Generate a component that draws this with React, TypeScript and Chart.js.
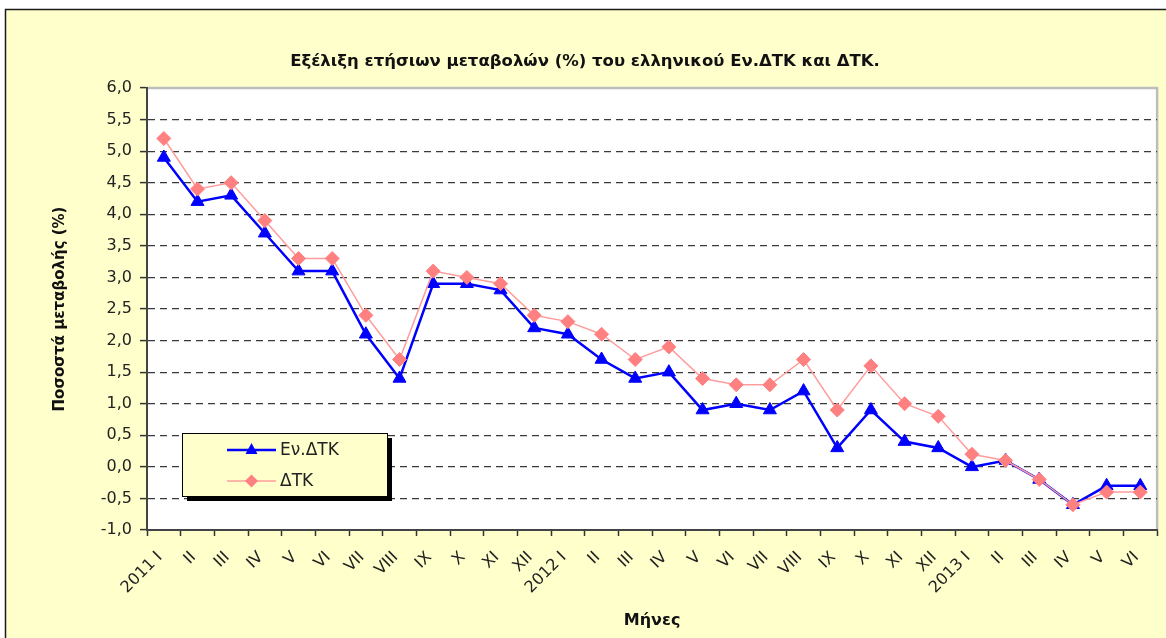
import React, { useEffect, useRef } from "react";
import { Chart, registerables } from "chart.js";

Chart.register(...registerables);

const months = [
  "2011 I", "II", "III", "IV", "V", "VI", "VII", "VIII", "IX", "X", "XI", "XII",
  "2012 I", "II", "III", "IV", "V", "VI", "VII", "VIII", "IX", "X", "XI", "XII",
  "2013 I", "II", "III", "IV", "V", "VI",
];

// Εν.ΔΤΚ (harmonised CPI), annual % change
const hicpValues = [
  4.9, 4.2, 4.3, 3.7, 3.1, 3.1, 2.1, 1.4, 2.9, 2.9, 2.8, 2.2,
  2.1, 1.7, 1.4, 1.5, 0.9, 1.0, 0.9, 1.2, 0.3, 0.9, 0.4, 0.3,
  0.0, 0.1, -0.2, -0.6, -0.3, -0.3,
];

// ΔΤΚ (CPI), annual % change
const cpiValues = [
  5.2, 4.4, 4.5, 3.9, 3.3, 3.3, 2.4, 1.7, 3.1, 3.0, 2.9, 2.4,
  2.3, 2.1, 1.7, 1.9, 1.4, 1.3, 1.3, 1.7, 0.9, 1.6, 1.0, 0.8,
  0.2, 0.1, -0.2, -0.6, -0.4, -0.4,
];

const seriesNames = ["Εν.ΔΤΚ", "ΔΤΚ"];
const yMin = -1.0;
const yMax = 6.0;
const yStep = 0.5;

const chartTitle = "Εξέλιξη ετήσιων μεταβολών (%) του ελληνικού Εν.ΔΤΚ και ΔΤΚ.";
const yAxisTitle = "Ποσοστά μεταβολής (%)";
const xAxisTitle = "Μήνες";

const BLUE = "#0000FF";
const PINK = "#FF8080";
const PINK_LINE = "#FF9C9C";
const BG = "#FFFFCC";
const FONT = "'DejaVu Sans', 'Liberation Sans', Arial, sans-serif";

const framePlugin = {
  id: "frame",
  beforeDraw(chart: any) {
    const { ctx, width, height, chartArea: a } = chart;
    ctx.save();
    ctx.fillStyle = "#ffffff";
    ctx.fillRect(0, 0, width, height);
    ctx.fillStyle = BG;
    ctx.fillRect(5, 9, width, height);
    ctx.strokeStyle = "#1a1a1a";
    ctx.lineWidth = 1.5;
    ctx.beginPath();
    ctx.moveTo(5.5, height);
    ctx.lineTo(5.5, 9.5);
    ctx.lineTo(width, 9.5);
    ctx.stroke();
    ctx.fillStyle = "#ffffff";
    ctx.fillRect(a.left, a.top, a.right - a.left, a.bottom - a.top);
    ctx.strokeStyle = "#BDBDBD";
    ctx.lineWidth = 2.5;
    ctx.beginPath();
    ctx.moveTo(a.left, a.top);
    ctx.lineTo(a.right, a.top);
    ctx.lineTo(a.right, a.bottom);
    ctx.stroke();
    ctx.restore();
  },
};

const legendPlugin = {
  id: "boxLegend",
  afterDatasetsDraw(chart: any) {
    const { ctx, chartArea: a } = chart;
    const x = a.left + 35;
    const y = a.top + 345;
    const w = 205;
    const h = 63;
    ctx.save();
    ctx.fillStyle = "#000000";
    ctx.fillRect(x + 5, y + 5, w, h);
    ctx.fillStyle = BG;
    ctx.fillRect(x, y, w, h);
    ctx.strokeStyle = "#000000";
    ctx.lineWidth = 1;
    ctx.strokeRect(x + 0.5, y + 0.5, w, h);

    const rows = [
      { name: seriesNames[0], color: BLUE, lineColor: BLUE, lw: 2.5, shape: "tri" },
      { name: seriesNames[1], color: PINK, lineColor: PINK_LINE, lw: 1.5, shape: "dia" },
    ];
    rows.forEach((r, i) => {
      const cy = y + 17 + i * 31;
      const lx1 = x + 45;
      const lx2 = x + 94;
      const mx = (lx1 + lx2) / 2;
      ctx.strokeStyle = r.lineColor;
      ctx.lineWidth = r.lw;
      ctx.beginPath();
      ctx.moveTo(lx1, cy);
      ctx.lineTo(lx2, cy);
      ctx.stroke();
      ctx.fillStyle = r.color;
      ctx.beginPath();
      if (r.shape === "tri") {
        ctx.moveTo(mx, cy - 7);
        ctx.lineTo(mx + 6, cy + 4);
        ctx.lineTo(mx - 6, cy + 4);
      } else {
        ctx.moveTo(mx, cy - 6.5);
        ctx.lineTo(mx + 6.5, cy);
        ctx.lineTo(mx, cy + 6.5);
        ctx.lineTo(mx - 6.5, cy);
      }
      ctx.closePath();
      ctx.fill();
      ctx.fillStyle = "#222222";
      ctx.font = `17px ${FONT}`;
      ctx.textAlign = "left";
      ctx.textBaseline = "middle";
      ctx.fillText(r.name, x + 98, cy + 1);
    });
    ctx.restore();
  },
};

export default function App() {
  const canvasRef = useRef<HTMLCanvasElement | null>(null);

  useEffect(() => {
    const canvas = canvasRef.current;
    if (!canvas) return;
    const chart = new Chart(canvas, {
      type: "line",
      data: {
        labels: months,
        datasets: [
          {
            label: seriesNames[0],
            data: hicpValues,
            borderColor: BLUE,
            backgroundColor: BLUE,
            borderWidth: 2.5,
            pointStyle: "triangle",
            pointRadius: 7.5,
            pointBorderWidth: 1,
            pointBorderColor: BLUE,
            pointBackgroundColor: BLUE,
            tension: 0,
            order: 1,
          },
          {
            label: seriesNames[1],
            data: cpiValues,
            borderColor: PINK_LINE,
            backgroundColor: PINK,
            borderWidth: 1.5,
            pointStyle: "rectRot",
            pointRadius: 7,
            pointBorderWidth: 1,
            pointBorderColor: PINK,
            pointBackgroundColor: PINK,
            tension: 0,
            order: 0,
          },
        ],
      },
      plugins: [framePlugin, legendPlugin],
      options: {
        responsive: false,
        animation: false,
        layout: { padding: { left: 10, right: 6, top: 0, bottom: 0 } },
        plugins: {
          legend: { display: false },
          tooltip: { enabled: false },
          title: {
            display: true,
            text: chartTitle,
            color: "#111111",
            font: { family: FONT, size: 16.5, weight: "bold", lineHeight: 1.2 },
            padding: { top: 52, bottom: 16.2 },
          },
        },
        scales: {
          x: {
            type: "category",
            offset: true,
            afterFit: (s: any) => {
              s.height = 108;
            },
            grid: {
              offset: true,
              drawOnChartArea: false,
              drawTicks: true,
              tickLength: 6,
              tickColor: "#333333",
              tickWidth: 1.5,
            },
            border: { display: true, color: "#444444", width: 2 },
            ticks: {
              autoSkip: false,
              minRotation: 45,
              maxRotation: 45,
              padding: 12,
              labelOffset: -4,
              color: "#222222",
              font: { family: FONT, size: 16 },
            },
            title: {
              display: true,
              text: xAxisTitle,
              color: "#111111",
              font: { family: FONT, size: 16, weight: "bold", lineHeight: 1.2 },
              padding: { top: 0, bottom: 8 },
            },
          },
          y: {
            min: yMin,
            max: yMax,
            afterFit: (s: any) => {
              s.width = 137;
            },
            grid: {
              color: (c: any) =>
                c.tick && (c.tick.value === yMin || c.tick.value === yMax) ? "rgba(0,0,0,0)" : "#3a3a3a",
              lineWidth: 1.2,
              tickLength: 7,
              tickColor: "#333333",
              tickWidth: 1.5,
            },
            border: { display: true, color: "#444444", width: 2, dash: [7, 5] },
            ticks: {
              stepSize: yStep,
              padding: 8,
              color: "#222222",
              font: { family: FONT, size: 16 },
              callback: (v: any) => Number(v).toFixed(1).replace(".", ","),
            },
            title: {
              display: true,
              text: yAxisTitle,
              color: "#111111",
              font: { family: FONT, size: 15, weight: "bold", lineHeight: 1.2 },
              padding: { top: 41, bottom: 0 },
            },
          },
        },
      },
    } as any);
    return () => chart.destroy();
  }, []);

  return (
    <div style={{ position: "fixed", left: 0, top: 0, width: 1166, height: 638, overflow: "hidden" }}>
      <canvas ref={canvasRef} width={1166} height={638} style={{ display: "block" }} />
    </div>
  );
}
